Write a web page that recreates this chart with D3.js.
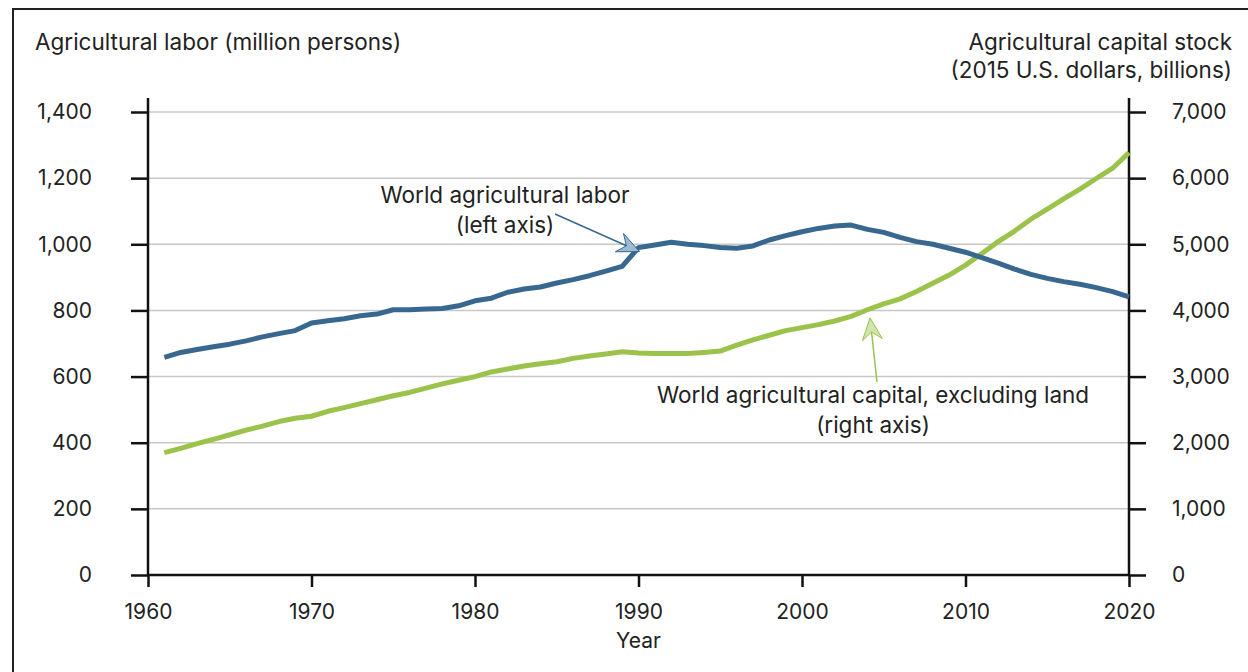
<!DOCTYPE html>
<html>
<head>
<meta charset="utf-8">
<script src="https://cdn.jsdelivr.net/npm/d3@7"></script>
<style>
  body { margin: 0; background: #fff; }
  svg text { font-family: Inter, Roboto, "Noto Sans", sans-serif; fill: #222; }
</style>
</head>
<body>
<script>
// data
const years = d3.range(1961, 2021);
const labor = [658, 673, 682, 690, 698, 708, 720, 730, 739, 762,
  769, 775, 784, 789, 802, 802, 804, 806, 814, 829,
  837, 855, 865, 871, 883, 893, 905, 919, 933, 990,
  998, 1006, 1000, 996, 990, 988, 995, 1013, 1026, 1038,
  1048, 1055, 1058, 1045, 1036, 1021, 1008, 1000, 988, 976,
  960, 943, 925, 909, 897, 887, 879, 869, 857, 841];
const capital = [1850, 1915, 1985, 2050, 2120, 2190, 2250, 2320, 2370, 2400,
  2475, 2530, 2590, 2650, 2710, 2760, 2825, 2890, 2945, 3000,
  3070, 3115, 3160, 3195, 3225, 3275, 3310, 3340, 3375, 3355,
  3350, 3350, 3350, 3365, 3385, 3475, 3555, 3625, 3695, 3740,
  3785, 3840, 3910, 4010, 4100, 4175, 4285, 4410, 4535, 4685,
  4860, 5040, 5200, 5380, 5530, 5685, 5835, 5995, 6150, 6385];
const xTicks = [1960, 1970, 1980, 1990, 2000, 2010, 2020];
const leftTicks = [0, 200, 400, 600, 800, 1000, 1200, 1400];
const rightTicks = [0, 1000, 2000, 3000, 4000, 5000, 6000, 7000];

const width = 1248;
const height = 672;
const margin = { left: 148, right: 119, top: 112, bottom: 97 };
const labelSize = 22.5;
const tickSize = 21;

const svg = d3.select('body').append('svg')
  .attr('width', width)
  .attr('height', height);

// frame
svg.append('rect')
  .attr('x', 13).attr('y', 9)
  .attr('width', 1300).attr('height', 700)
  .attr('fill', 'none').attr('stroke', '#222').attr('stroke-width', 2);

const x = d3.scaleLinear().domain([1960, 2020]).range([margin.left, width - margin.right]);
const yL = d3.scaleLinear().domain([0, 1400]).range([height - margin.bottom, margin.top]);
const yR = d3.scaleLinear().domain([0, 7000]).range([height - margin.bottom, margin.top]);

// gridlines
svg.append('g')
  .selectAll('line')
  .data(leftTicks.slice(1))
  .join('line')
  .attr('x1', x(1960)).attr('x2', x(2020))
  .attr('y1', d => yL(d)).attr('y2', d => yL(d))
  .attr('stroke', '#c8c8c8').attr('stroke-width', 1.5);

// axes
const fmt = d3.format(',');
const gL = svg.append('g')
  .attr('transform', 'translate(' + x(1960) + ',0)')
  .call(d3.axisLeft(yL).tickValues(leftTicks).tickFormat(fmt).tickSize(17).tickPadding(39).tickSizeOuter(0));
const gR = svg.append('g')
  .attr('transform', 'translate(' + x(2020) + ',0)')
  .call(d3.axisRight(yR).tickValues(rightTicks).tickFormat(fmt).tickSize(17).tickPadding(26).tickSizeOuter(0));
const gB = svg.append('g')
  .attr('transform', 'translate(0,' + yL(0) + ')')
  .call(d3.axisBottom(x).tickValues(xTicks).tickFormat(d3.format('d')).tickSize(12).tickPadding(17).tickSizeOuter(0));

[gL, gR, gB].forEach(g => {
  g.select('.domain').remove();
  g.selectAll('.tick line').attr('stroke', '#111').attr('stroke-width', 2.5);
  g.selectAll('.tick text').attr('font-size', tickSize).attr('fill', '#222');
});

// axis lines
svg.append('line')
  .attr('x1', x(1960)).attr('x2', x(1960))
  .attr('y1', yL(1400) - 14).attr('y2', yL(0) + 1)
  .attr('stroke', '#111').attr('stroke-width', 2.5);
svg.append('line')
  .attr('x1', x(2020)).attr('x2', x(2020))
  .attr('y1', yL(1400) - 14).attr('y2', yL(0) + 1)
  .attr('stroke', '#111').attr('stroke-width', 2.5);
svg.append('line')
  .attr('x1', x(1960)).attr('x2', x(2020))
  .attr('y1', yL(0)).attr('y2', yL(0))
  .attr('stroke', '#111').attr('stroke-width', 2.5);

// lines
const lineL = d3.line().x((d, i) => x(years[i])).y(d => yL(d));
const lineR = d3.line().x((d, i) => x(years[i])).y(d => yR(d));

svg.append('path')
  .datum(capital)
  .attr('d', lineR)
  .attr('fill', 'none')
  .attr('stroke', '#9bc24a')
  .attr('stroke-width', 5)
  .attr('stroke-linejoin', 'round');

svg.append('path')
  .datum(labor)
  .attr('d', lineL)
  .attr('fill', 'none')
  .attr('stroke', '#386890')
  .attr('stroke-width', 5)
  .attr('stroke-linejoin', 'round');

// axis titles
svg.append('text')
  .attr('x', 35).attr('y', 50)
  .attr('font-size', labelSize)
  .text('Agricultural labor (million persons)');
svg.append('text')
  .attr('x', 1232).attr('y', 50)
  .attr('font-size', labelSize).attr('text-anchor', 'end')
  .text('Agricultural capital stock');
svg.append('text')
  .attr('x', 1232).attr('y', 78)
  .attr('font-size', labelSize).attr('text-anchor', 'end')
  .text('(2015 U.S. dollars, billions)');
svg.append('text')
  .attr('x', (x(1960) + x(2020)) / 2).attr('y', 648)
  .attr('font-size', tickSize).attr('text-anchor', 'middle')
  .text('Year');

// arrow helper
function arrow(x1, y1, x2, y2, stroke, fill) {
  const ang = Math.atan2(y2 - y1, x2 - x1);
  const len = 22, half = 10;
  const bx = x2 - len * Math.cos(ang), by = y2 - len * Math.sin(ang);
  const nx = -Math.sin(ang), ny = Math.cos(ang);
  const nb = 0.35;
  svg.append('line')
    .attr('x1', x1).attr('y1', y1)
    .attr('x2', bx + nb * len * Math.cos(ang)).attr('y2', by + nb * len * Math.sin(ang))
    .attr('stroke', stroke).attr('stroke-width', 1.5);
  const notchX = bx + nb * len * Math.cos(ang), notchY = by + nb * len * Math.sin(ang);
  svg.append('path')
    .attr('d', 'M' + x2 + ',' + y2 +
      'L' + (bx + nx * half) + ',' + (by + ny * half) +
      'L' + notchX + ',' + notchY +
      'L' + (bx - nx * half) + ',' + (by - ny * half) + 'Z')
    .attr('fill', fill).attr('stroke', stroke).attr('stroke-width', 1);
}

// annotations
svg.append('text')
  .attr('x', 505).attr('y', 203)
  .attr('font-size', labelSize).attr('text-anchor', 'middle')
  .text('World agricultural labor');
svg.append('text')
  .attr('x', 505).attr('y', 233)
  .attr('font-size', labelSize).attr('text-anchor', 'middle')
  .text('(left axis)');
arrow(555, 214, x(1990) + 1, yL(labor[29]) + 4, '#386890', '#9db9d2');

svg.append('text')
  .attr('x', 873).attr('y', 403)
  .attr('font-size', labelSize).attr('text-anchor', 'middle')
  .text('World agricultural capital, excluding land');
svg.append('text')
  .attr('x', 873).attr('y', 433)
  .attr('font-size', labelSize).attr('text-anchor', 'middle')
  .text('(right axis)');
arrow(877, 382, 870, yR(capital[43]) + 8, '#9bc24a', '#d2e5b0');
</script>
</body>
</html>
